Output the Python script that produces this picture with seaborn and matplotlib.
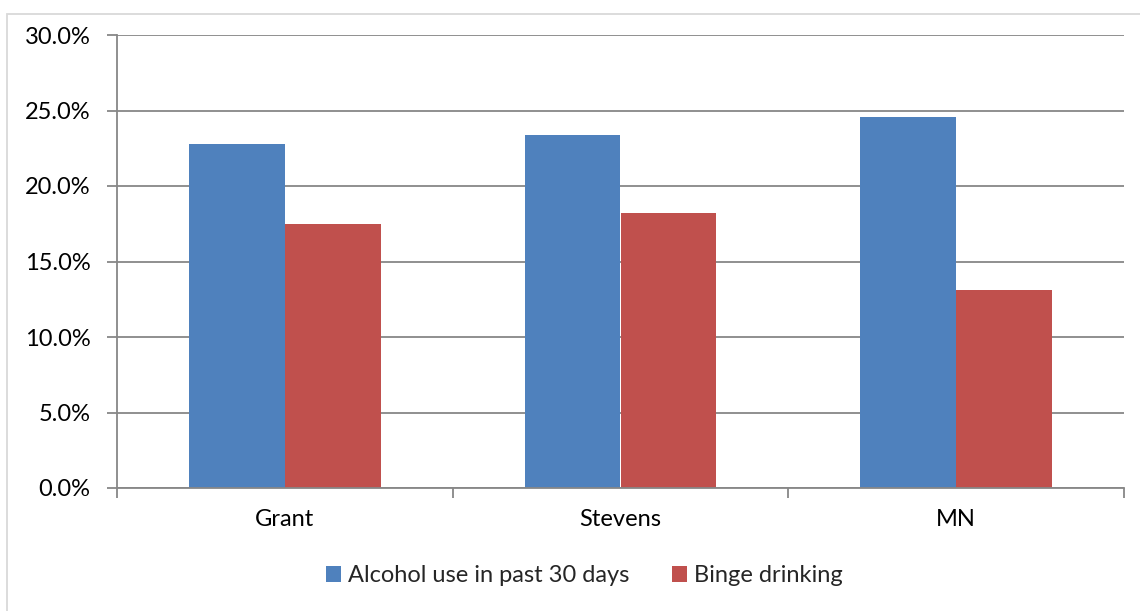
import matplotlib
matplotlib.use("Agg")
import matplotlib.pyplot as plt
import seaborn as sns
import pandas as pd
from matplotlib.ticker import PercentFormatter, FixedLocator
from matplotlib.patches import Rectangle

categories = ["Grant", "Stevens", "MN"]
series_names = ["Alcohol use in past 30 days", "Binge drinking"]
alcohol_use = [22.8, 23.4, 24.6]
binge_drinking = [17.5, 18.2, 13.1]
y_ticks = [0, 5, 10, 15, 20, 25, 30]
colors = ["#4F81BD", "#C0504D"]

df = pd.DataFrame({
    "region": categories * 2,
    "series": [series_names[0]] * 3 + [series_names[1]] * 3,
    "value": alcohol_use + binge_drinking,
})

sns.set_theme(style="white")
plt.rcParams["font.family"] = ["Lato", "DejaVu Sans"]

FS = 17

fig = plt.figure(figsize=(11.4, 6.11), dpi=100)
ax = fig.add_axes([117 / 1140, 1 - 488 / 611, (1124 - 117) / 1140, (488 - 35) / 611])

sns.barplot(data=df, x="region", y="value", hue="series", order=categories,
            hue_order=series_names, palette=colors, width=0.571, dodge=True,
            saturation=1, edgecolor="none", linewidth=0, ax=ax, legend=False)

ax.set_xlim(-0.5, 2.5)
ax.set_ylim(0, 30)
ax.yaxis.set_major_locator(FixedLocator(y_ticks))
ax.yaxis.set_major_formatter(PercentFormatter(decimals=1))
grid_c = "#878787"
ax.grid(axis="y", color=grid_c, linewidth=1.3)
ax.set_axisbelow(True)
for s in ["top", "right"]:
    ax.spines[s].set_visible(False)
for s in ["left", "bottom"]:
    ax.spines[s].set_color(grid_c)
    ax.spines[s].set_linewidth(1.3)

ax.set_xlabel("")
ax.set_ylabel("")
ax.tick_params(axis="y", which="major", left=True, length=7, width=1.3, color=grid_c,
               pad=12, labelsize=FS, labelcolor="#000000")
ax.xaxis.set_minor_locator(FixedLocator([-0.5, 0.5, 1.5, 2.5]))
ax.tick_params(axis="x", which="minor", bottom=True, length=7, width=1.3, color=grid_c)
ax.tick_params(axis="x", which="major", bottom=False, length=0, pad=15,
               labelsize=FS, labelcolor="#000000")

handles = [Rectangle((0, 0), 1, 1, facecolor=c, edgecolor="none") for c in colors]
fig.legend(handles, series_names, loc="center", bbox_to_anchor=(584.5 / 1140, 1 - 576 / 611),
           ncol=2, frameon=False, fontsize=FS, handlelength=0.65, handleheight=0.65,
           handletextpad=0.3, columnspacing=1.8, borderpad=0, borderaxespad=0)

fig.patches.append(Rectangle((7 / 1140, -0.01), 1.1, 1 - 14 / 611 + 0.01,
                             transform=fig.transFigure, fill=False,
                             edgecolor="#D9D9D9", linewidth=1.3, zorder=-1))

fig.savefig("out.png", dpi=100)
